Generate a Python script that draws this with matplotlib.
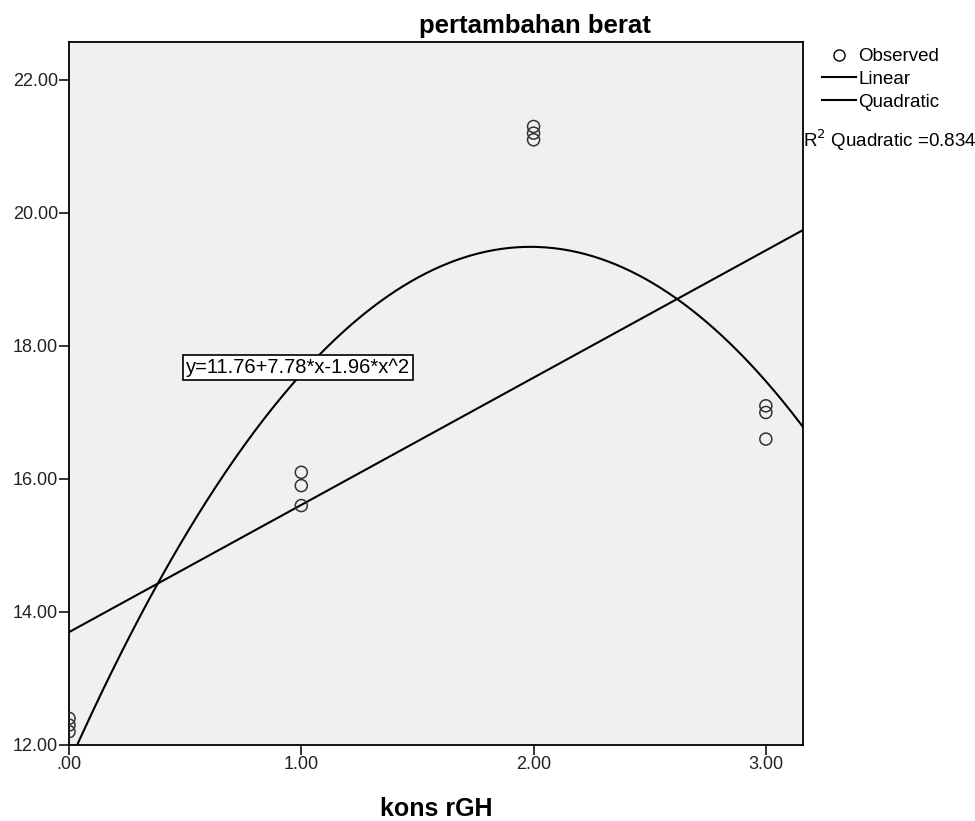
import matplotlib
matplotlib.use('Agg')
import matplotlib.pyplot as plt
from matplotlib.lines import Line2D
import numpy as np

plt.rcParams['font.family'] = ['Liberation Sans', 'DejaVu Sans']

# observed data (kons rGH vs pertambahan berat)
kons = [0, 0, 0, 1, 1, 1, 2, 2, 2, 3, 3, 3]
berat = [12.4, 12.3, 12.2, 16.1, 15.9, 15.6, 21.3, 21.2, 21.1, 17.1, 17.0, 16.6]
xticks = [0, 1, 2, 3]
xticklabels = ['.00', '1.00', '2.00', '3.00']
yticks = [12, 14, 16, 18, 20, 22]
eq_text = 'y=11.76+7.78*x-1.96*x^2'
r2_text = 'R$^2$ Quadratic =0.834'

x = np.array(kons, dtype=float)
y = np.array(berat)
lin = np.polyfit(x, y, 1)
quad = np.polyfit(x, y, 2)

fig = plt.figure(figsize=(9.75, 8.21), dpi=100)
ax = fig.add_axes([0.0708, 0.0926, 0.7528, 0.8562])
ax.set_facecolor('#f0f0f0')

xs = np.linspace(-0.05, 3.2, 400)
ax.plot(xs, np.polyval(lin, xs), color='black', lw=1.5)
ax.plot(xs, np.polyval(quad, xs), color='black', lw=1.5)
ax.scatter(x, y, s=75, facecolors='none', edgecolors='#333333', linewidths=1.1, zorder=3)

ax.set_xlim(0, 3.16)
ax.set_ylim(12, 22.57)
ax.set_xticks(xticks)
ax.set_xticklabels(xticklabels)
ax.set_yticks(yticks)
ax.set_yticklabels(['%.2f' % v for v in yticks])
ax.tick_params(direction='out', length=7, width=1.1, pad=1, labelsize=13,
               colors='black', labelcolor='#222222')
for s in ax.spines.values():
    s.set_linewidth(1.3)

ax.text(0.505, 17.67, eq_text, fontsize=14.5, va='center', ha='left',
        bbox=dict(boxstyle='square,pad=0.15', facecolor='white', edgecolor='black', lw=1.2))

fig.text(535 / 975, 1 - 26 / 821, 'pertambahan berat', ha='center', va='center',
         fontsize=18.5, fontweight='bold')
fig.text(436 / 975, 1 - 809 / 821, 'kons rGH', ha='center', va='center',
         fontsize=18, fontweight='bold')

handles = [
    Line2D([], [], marker='o', ls='none', mfc='none', mec='black', ms=8),
    Line2D([], [], color='black', lw=1.5),
    Line2D([], [], color='black', lw=1.5),
]
fig.legend(handles, ['Observed', 'Linear', 'Quadratic'], loc='upper left',
           bbox_to_anchor=(822 / 975, 1 - 48 / 821), frameon=False, fontsize=13.5,
           handlelength=1.8, handletextpad=0.15, labelspacing=0.3, borderaxespad=0,
           borderpad=0)
fig.text(803 / 975, 1 - 140 / 821, r2_text, ha='left', va='center', fontsize=13.5)

fig.savefig('out.png', dpi=100)
